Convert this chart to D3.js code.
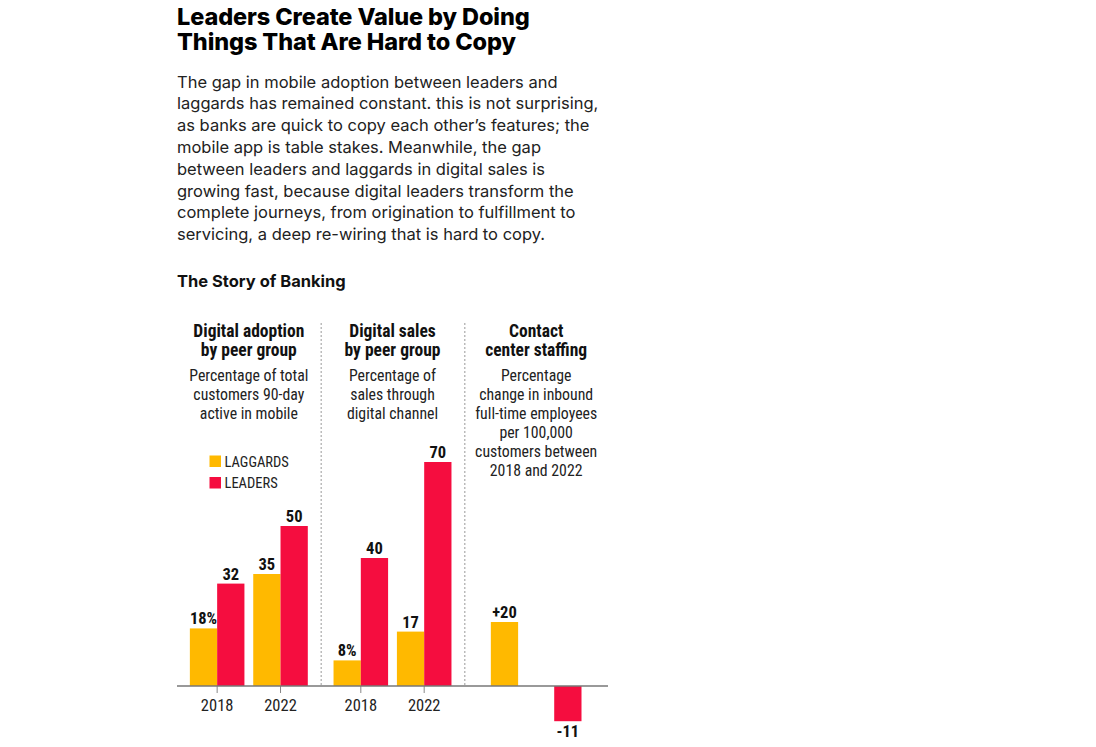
<!DOCTYPE html>
<html><head><meta charset="utf-8">
<script src="https://cdn.jsdelivr.net/npm/d3@7"></script>
<style>body{margin:0;background:#fff}svg{display:block}</style>
</head><body><svg id="c" width="1096" height="747"></svg>
<script>
// ---------- data ----------
const titleLines = ["Leaders Create Value by Doing", "Things That Are Hard to Copy"];
const bodyLines = [
  "The gap in mobile adoption between leaders and",
  "laggards has remained constant. this is not surprising,",
  "as banks are quick to copy each other\u2019s features; the",
  "mobile app is table stakes. Meanwhile, the gap",
  "between leaders and laggards in digital sales is",
  "growing fast, because digital leaders transform the",
  "complete journeys, from origination to fulfillment to",
  "servicing, a deep re-wiring that is hard to copy."
];
const chartTitle = "The Story of Banking";
const panels = ["adoption", "sales", "staffing"];
const panelTitles = [["Digital adoption", "by peer group"], ["Digital sales", "by peer group"], ["Contact", "center staffing"]];
const panelSubtitles = [
  ["Percentage of total", "customers 90-day", "active in mobile"],
  ["Percentage of", "sales through", "digital channel"],
  ["Percentage", "change in inbound", "full-time employees", "per 100,000", "customers between", "2018 and 2022"]
];
const years = ["2018", "2022"];
const series = ["LAGGARDS", "LEADERS"];
const adoptionLaggards = [18, 35];
const adoptionLeaders = [32, 50];
const salesLaggards = [8, 17];
const salesLeaders = [40, 70];
const staffingChange = [20, -11]; // laggards, leaders
const colors = ["#FFB900", "#F50D3F"];

// ---------- setup ----------
const svg = d3.select("#c");
const SANS = "Inter, 'Noto Sans', sans-serif";
const COND = "'Roboto Condensed', 'Liberation Sans Narrow', 'Arial Narrow', Roboto, sans-serif";

const title = svg.append("text")
  .attr("font-family", SANS).attr("font-weight", 800).attr("font-size", 23.5)
  .attr("letter-spacing", -0.1).attr("fill", "#000");
title.selectAll("tspan").data(titleLines).join("tspan")
  .attr("x", 177).attr("y", (d, i) => 24.5 + i * 25).text(d => d);

const body = svg.append("text")
  .attr("font-family", SANS).attr("font-size", 16.5).attr("fill", "#222");
body.selectAll("tspan").data(bodyLines).join("tspan")
  .attr("x", 177).attr("y", (d, i) => 87.5 + i * 21.8).text(d => d);

svg.append("text").attr("x", 177).attr("y", 286.5)
  .attr("font-family", SANS).attr("font-weight", 700).attr("font-size", 16.5)
  .attr("fill", "#111").text(chartTitle);

// scales
const xPanel = d3.scaleBand().domain(panels).range([177, 608]);
const pw = xPanel.bandwidth();
const xYear = d3.scaleBand().domain(years).range([0, pw]).paddingInner(0.139).paddingOuter(0.203);
const xSeries = d3.scaleBand().domain(series).range([0, pw]).paddingInner(0.139).paddingOuter(0.203);
const xSub = d3.scaleBand().domain(series).range([0, xYear.bandwidth()]);
const y = d3.scaleLinear().domain([0, 70]).range([686, 462]);

// dividers
svg.append("g").selectAll("line").data(panels.slice(1)).join("line")
  .attr("x1", d => xPanel(d) + 0.5).attr("x2", d => xPanel(d) + 0.5)
  .attr("y1", 323).attr("y2", y(0))
  .attr("stroke", "#999").attr("stroke-width", 1).attr("stroke-dasharray", "2,2");

// panel headers
panels.forEach((p, pi) => {
  const cx = xPanel(p) + pw / 2;
  svg.append("g").selectAll("text").data(panelTitles[pi]).join("text")
    .attr("x", cx).attr("y", (d, i) => 336.5 + i * 19).attr("text-anchor", "middle")
    .attr("font-family", COND).attr("font-weight", 700).attr("font-size", 17.5)
    .attr("fill", "#111").text(d => d);
  svg.append("g").selectAll("text").data(panelSubtitles[pi]).join("text")
    .attr("x", cx).attr("y", (d, i) => 380.5 + i * 19).attr("text-anchor", "middle")
    .attr("font-family", COND).attr("font-size", 15.8)
    .attr("fill", "#222").text(d => d);
});

// grouped panels
const grouped = [
  { panel: "adoption", values: [adoptionLaggards, adoptionLeaders] },
  { panel: "sales", values: [salesLaggards, salesLeaders] }
];
grouped.forEach(g => {
  const gx = xPanel(g.panel);
  const gg = svg.append("g").attr("transform", `translate(${gx},0)`);
  const rows = [];
  years.forEach((yr, yi) => series.forEach((s, si) => rows.push({ yr, s, si, yi, v: g.values[si][yi] })));
  gg.selectAll("rect").data(rows).join("rect")
    .attr("x", d => xYear(d.yr) + xSub(d.s)).attr("width", xSub.bandwidth())
    .attr("y", d => y(d.v)).attr("height", d => y(0) - y(d.v))
    .attr("fill", d => colors[d.si]);
  gg.selectAll("text.v").data(rows).join("text").attr("class", "v")
    .attr("x", d => xYear(d.yr) + xSub(d.s) + xSub.bandwidth() / 2)
    .attr("y", d => y(d.v) - 4).attr("text-anchor", "middle")
    .attr("font-family", COND).attr("font-weight", 700).attr("font-size", 16.5)
    .attr("fill", "#111").text(d => d.v + (d.yi === 0 && d.si === 0 ? "%" : ""));
  const ax = gg.append("g").attr("transform", `translate(0,${y(0)})`)
    .call(d3.axisBottom(xYear).tickSize(7).tickSizeOuter(0).tickPadding(6));
  ax.select(".domain").remove();
  ax.selectAll(".tick line").attr("stroke", "#888");
  ax.selectAll(".tick text").attr("font-family", COND).attr("font-size", 16.5).attr("fill", "#222");
});

// staffing panel
{
  const gx = xPanel("staffing");
  const gg = svg.append("g").attr("transform", `translate(${gx},0)`);
  const rows = series.map((s, si) => ({ s, si, v: staffingChange[si] }));
  const bw = xSub.bandwidth();
  gg.selectAll("rect").data(rows).join("rect")
    .attr("x", d => xSeries(d.s) + xSeries.bandwidth() / 2 - bw / 2).attr("width", bw)
    .attr("y", d => y(Math.max(0, d.v))).attr("height", d => Math.abs(y(d.v) - y(0)))
    .attr("fill", d => colors[d.si]);
  gg.selectAll("text").data(rows).join("text")
    .attr("x", d => xSeries(d.s) + xSeries.bandwidth() / 2)
    .attr("y", d => d.v >= 0 ? y(d.v) - 4 : y(d.v) + 16).attr("text-anchor", "middle")
    .attr("font-family", COND).attr("font-weight", 700).attr("font-size", 16.5)
    .attr("fill", "#111").text(d => (d.v > 0 ? "+" : "") + d.v);
}

// baseline
svg.append("line").attr("x1", 177).attr("x2", 608).attr("y1", y(0)).attr("y2", y(0))
  .attr("stroke", "#777").attr("stroke-width", 1.5);

// legend
const lg = svg.append("g").selectAll("g").data(series).join("g")
  .attr("transform", (d, i) => `translate(209.5,${455.5 + i * 21.5})`);
lg.append("rect").attr("width", 11.5).attr("height", 11.5).attr("fill", (d, i) => colors[i]);
lg.append("text").attr("x", 15).attr("y", 11).attr("font-family", COND).attr("font-size", 14.5)
  .attr("fill", "#222").text(d => d);
</script></body></html>
